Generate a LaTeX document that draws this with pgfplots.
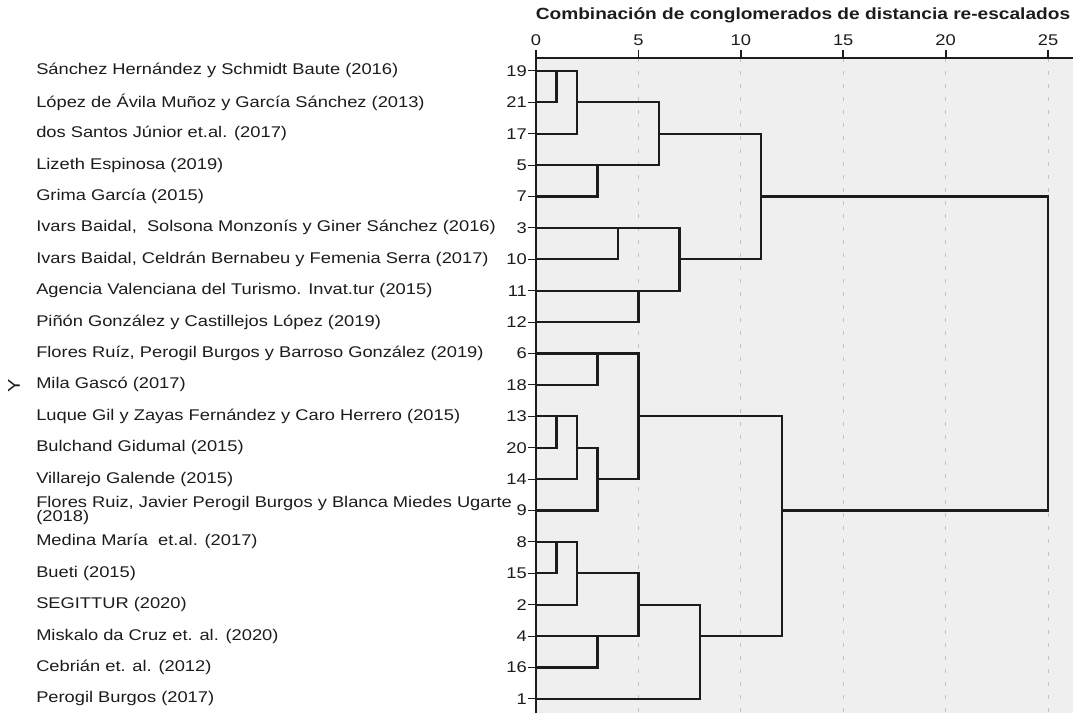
\documentclass[border=0pt]{standalone}
\usepackage{pgfplots}
\pgfplotsset{compat=1.18}
\usepackage{fontspec}
\setmainfont{Liberation Sans}[FakeStretch=1.18]
\definecolor{bg}{HTML}{EFEFEF}
\definecolor{gridc}{HTML}{C2C2C2}
\definecolor{ink}{HTML}{1C1C1C}
\pgfplotsset{dend/.style={draw=ink, solid, mark=none, line width=2.3bp, line join=miter}}
\begin{document}
\begin{tikzpicture}[font=\fontsize{15.5bp}{17bp}\selectfont, text=ink]
\useasboundingbox (0,0) rectangle (1073bp,713bp);
\begin{axis}[
  at={(536bp,0bp)}, anchor=south west,
  width=537bp, height=655bp, scale only axis,
  xmin=0, xmax=26.22,
  ymin=0.59, ymax=21.45, y dir=reverse,
  axis x line=top, axis y line=left,
  x axis line style={-, line width=1.8bp, draw=ink},
  y axis line style={-, line width=1.8bp, draw=ink},
  axis background/.style={fill=bg},
  xtick={0,5,10,15,20,25},
  ytick={1,...,21},
  yticklabels={19,21,17,5,7,3,10,11,12,6,18,13,20,14,9,8,15,2,4,16,1},
  tick align=outside,
  major tick length=8bp,
  xtick style={line width=1.8bp, draw=ink},
  ytick style={line width=1.1bp, draw=ink},
  xmajorgrids,
  major grid style={gridc, line width=1bp, dash pattern=on 4bp off 9bp},
  /pgf/number format/assume math mode=true,
  xticklabel style={font=\fontsize{15.5bp}{17bp}\selectfont, text=ink, yshift=1bp},
  yticklabel style={font=\fontsize{15.5bp}{17bp}\selectfont, text=ink, inner xsep=1bp},
  every axis y label/.style={at={(axis description cs:-0.972,0.5)}, rotate=90, anchor=center, font=\fontsize{17bp}{18bp}\selectfont},
  ylabel={Y},
  clip=false,
]
% dendrogram merges (x = rescaled distance, y = row)
\addplot[dend] coordinates {(0,1) (1,1) (1,2) (0,2)};
\addplot[dend] coordinates {(1,1) (2,1) (2,3) (0,3)};
\addplot[dend] coordinates {(0,4) (3,4) (3,5) (0,5)};
\addplot[dend] coordinates {(2,2) (6,2) (6,4) (3,4)};
\addplot[dend] coordinates {(0,6) (4,6) (4,7) (0,7)};
\addplot[dend] coordinates {(0,8) (5,8) (5,9) (0,9)};
\addplot[dend] coordinates {(4,6) (7,6) (7,8) (5,8)};
\addplot[dend] coordinates {(6,3) (11,3) (11,7) (7,7)};
\addplot[dend] coordinates {(0,10) (3,10) (3,11) (0,11)};
\addplot[dend] coordinates {(0,12) (1,12) (1,13) (0,13)};
\addplot[dend] coordinates {(1,12) (2,12) (2,14) (0,14)};
\addplot[dend] coordinates {(2,13) (3,13) (3,15) (0,15)};
\addplot[dend] coordinates {(3,10) (5,10) (5,14) (3,14)};
\addplot[dend] coordinates {(0,16) (1,16) (1,17) (0,17)};
\addplot[dend] coordinates {(1,16) (2,16) (2,18) (0,18)};
\addplot[dend] coordinates {(0,19) (3,19) (3,20) (0,20)};
\addplot[dend] coordinates {(2,17) (5,17) (5,19) (3,19)};
\addplot[dend] coordinates {(5,18) (8,18) (8,21) (0,21)};
\addplot[dend] coordinates {(5,12) (12,12) (12,19) (8,19)};
\addplot[dend] coordinates {(11,5) (25,5) (25,15) (12,15)};
% case names
\def\nm#1#2{\node[anchor=west, inner sep=0pt, text=ink] at (axis cs:-24.41,#1) {#2};}
\nm{1}{Sánchez Hernández y Schmidt Baute (2016)}
\nm{2}{López de Ávila Muñoz y García Sánchez (2013)}
\nm{3}{dos Santos Júnior et.al. (2017)}
\nm{4}{Lizeth Espinosa (2019)}
\nm{5}{Grima García (2015)}
\nm{6}{Ivars Baidal,\ \ Solsona Monzonís y Giner Sánchez (2016)}
\nm{7}{Ivars Baidal, Celdrán Bernabeu y Femenia Serra (2017)}
\nm{8}{Agencia Valenciana del Turismo. Invat.tur (2015)}
\nm{9}{Piñón González y Castillejos López (2019)}
\nm{10}{Flores Ruíz, Perogil Burgos y Barroso González (2019)}
\nm{11}{Mila Gascó (2017)}
\nm{12}{Luque Gil y Zayas Fernández y Caro Herrero (2015)}
\nm{13}{Bulchand Gidumal (2015)}
\nm{14}{Villarejo Galende (2015)}
\node[anchor=west, inner sep=0pt, text=ink, align=left, font=\fontsize{15.5bp}{14.5bp}\selectfont] at (axis cs:-24.41,15) {Flores Ruiz, Javier Perogil Burgos y Blanca Miedes Ugarte\\(2018)};
\nm{16}{Medina María\ \ et.al. (2017)}
\nm{17}{Bueti (2015)}
\nm{18}{SEGITTUR (2020)}
\nm{19}{Miskalo da Cruz et. al. (2020)}
\nm{20}{Cebrián et. al. (2012)}
\nm{21}{Perogil Burgos (2017)}
\end{axis}
\node[font=\bfseries\fontsize{16.2bp}{18bp}\selectfont, text=ink] at (803bp,698bp) {Combinación de conglomerados de distancia re-escalados};
\end{tikzpicture}
\end{document}
